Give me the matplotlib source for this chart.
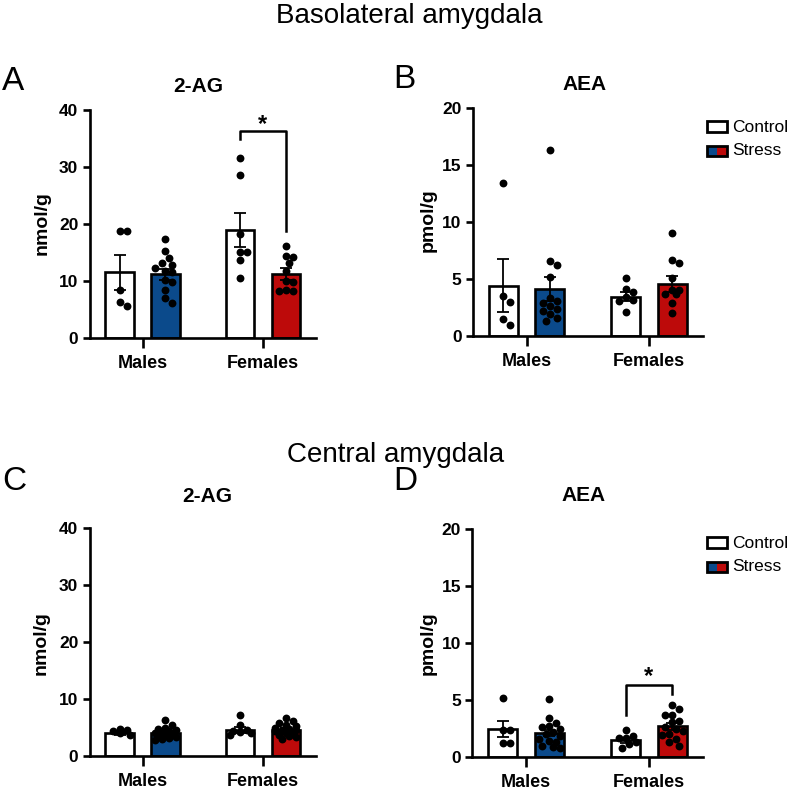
import matplotlib
matplotlib.use('Agg')
import matplotlib.pyplot as plt
import numpy as np
from matplotlib.patches import Rectangle

plt.rcParams['font.family'] = ['Liberation Sans', 'DejaVu Sans']

W = 790  # figure size in pixels
BLUE = '#0b4a8b'
RED = '#bd0a0a'

groups = ['Males', 'Females']
conditions = ['Control', 'Stress']

# order of bars in each panel: males control, males stress, females control, females stress
# A - basolateral amygdala, 2-AG (nmol/g)
bla_2ag_means = [11.5, 11.2, 18.9, 11.2]
bla_2ag_sems = [3.0, 0.95, 3.0, 1.0]
bla_2ag_points = [
    [18.8, 18.7, 8.5, 6.4, 5.7],
    [17.4, 15.2, 14.0, 13.1, 12.8, 12.3, 11.8, 11.5, 10.2, 9.9, 8.5, 7.0, 6.1],
    [31.5, 28.6, 18.3, 15.1, 15.1, 13.7, 10.6],
    [16.2, 14.3, 14.2, 13.1, 11.7, 10.0, 9.9, 8.5, 8.3, 8.3],
]

# B - basolateral amygdala, AEA (pmol/g)
bla_aea_means = [4.42, 4.1, 3.46, 4.6]
bla_aea_sems = [2.3, 1.05, 0.42, 0.7]
bla_aea_points = [
    [13.4, 3.5, 3.0, 1.5, 1.0],
    [16.3, 6.6, 6.2, 5.2, 3.3, 3.1, 2.9, 2.6, 2.4, 2.2, 1.9, 1.6, 1.3],
    [5.1, 4.1, 3.9, 3.4, 3.2, 3.1, 2.1],
    [9.0, 6.7, 6.4, 5.1, 4.0, 4.0, 3.7, 3.7, 2.9, 2.0],
]

# C - central amygdala, 2-AG (nmol/g)
cea_2ag_means = [4.0, 4.1, 4.6, 4.6]
cea_2ag_sems = [0.25, 0.3, 0.55, 0.25]
cea_2ag_points = [
    [4.8, 4.5, 4.4, 4.0, 3.6],
    [6.4, 5.5, 5.0, 4.8, 4.6, 4.4, 4.2, 4.0, 3.9, 3.7, 3.5, 3.3, 3.1, 2.9, 2.8],
    [7.2, 5.4, 4.6, 4.4, 4.2, 4.0, 3.7],
    [6.6, 6.2, 5.8, 5.5, 5.2, 5.0, 4.8, 4.6, 4.5, 4.3, 4.1, 3.9, 3.7, 3.5, 3.3, 3.0],
]

# D - central amygdala, AEA (pmol/g)
cea_aea_means = [2.45, 2.1, 1.45, 2.7]
cea_aea_sems = [0.72, 0.3, 0.2, 0.3]
cea_aea_points = [
    [5.15, 2.4, 2.4, 1.25, 1.25],
    [5.1, 3.4, 3.0, 2.7, 2.6, 2.5, 2.2, 2.0, 1.8, 1.6, 1.4, 1.3, 1.0, 0.9, 0.8],
    [2.35, 1.85, 1.7, 1.65, 1.3, 1.15, 0.75],
    [4.55, 4.2, 3.7, 3.65, 3.2, 3.05, 2.65, 2.5, 2.3, 2.05, 1.9, 1.6, 1.3, 1.0],
]

# significance brackets (left leg bottom, top, right leg bottom)
bla_2ag_bracket = [35.0, 36.3, 18.7]
cea_aea_bracket = [3.67, 6.3, 5.57]


def swarm(values, ypx, xpx, diam=7.0, max_off=12):
    # simple beeswarm: spread points sideways so they do not overlap
    step = diam / 2
    cands = [0.0]
    k = 1
    while k * step <= max_off:
        cands += [k * step, -k * step]
        k += 1
    placed = []
    offs = []
    for v in values:
        y = v * ypx
        best, best_d = 0.0, -1
        for c in cands:
            d = min([np.hypot(c - px, y - py) for px, py in placed], default=1e9)
            if d >= diam:
                best = c
                break
            if d > best_d:
                best, best_d = c, d
        placed.append((best, y))
        offs.append(best / xpx)
    return offs


def px_rect(left, top, right, bottom):
    return [left / W, 1 - bottom / W, (right - left) / W, (bottom - top) / W]


def draw_panel(fig, rect, means, sems, points, ymax, yticks, bracket=None, star_y=None):
    ax = fig.add_axes(rect)
    xlim = (-0.44, 1.44)
    ax.set_xlim(*xlim)
    ax.set_ylim(0, ymax)
    width_px = rect[2] * W
    height_px = rect[3] * W
    xpx = width_px / (xlim[1] - xlim[0])
    ypx = height_px / ymax

    xs = [-0.19, 0.19, 1 - 0.19, 1 + 0.19]
    colors = ['white', BLUE, 'white', RED]
    ax.bar(xs, means, width=0.235, color=colors, edgecolor='black', linewidth=1.9, zorder=2)
    ax.errorbar(xs, means, yerr=sems, fmt='none', ecolor='black', elinewidth=1.3,
                capsize=4.5, capthick=1.3, zorder=3)
    for x, vals in zip(xs, points):
        offs = swarm(vals, ypx, xpx)
        ax.scatter(np.array(offs) + x, vals, s=32, color='black', linewidths=0, zorder=4)

    if bracket is not None:
        x1, x2 = xs[2], xs[3]
        ax.plot([x1, x1, x2, x2], [bracket[0], bracket[1], bracket[1], bracket[2]],
                color='black', lw=1.8, zorder=5, clip_on=False)
        ax.text((x1 + x2) / 2, star_y, '*', ha='center', va='baseline',
                fontsize=17, fontweight='bold')

    for s in ['top', 'right']:
        ax.spines[s].set_visible(False)
    for s in ['left', 'bottom']:
        ax.spines[s].set_linewidth(1.9)
    ax.set_yticks(yticks)
    ax.set_xticks([0, 1])
    ax.set_xticklabels(groups, fontsize=13, fontweight='bold')
    ax.tick_params(axis='y', length=5, width=1.9, pad=3, labelsize=12.5)
    ax.tick_params(axis='x', length=7, width=1.9, pad=5)
    for lab in ax.get_yticklabels():
        lab.set_fontweight('bold')
    return ax


class SplitBox:
    def legend_artist(self, legend, orig_handle, fontsize, handlebox):
        x0, y0 = handlebox.xdescent, handlebox.ydescent
        w, h = handlebox.width, handlebox.height
        t = handlebox.get_transform()
        left = Rectangle((x0, y0), w / 2, h, facecolor=BLUE, edgecolor='none', transform=t)
        right = Rectangle((x0 + w / 2, y0), w / 2, h, facecolor=RED, edgecolor='none', transform=t)
        box = Rectangle((x0, y0), w, h, facecolor='none', edgecolor='black', lw=2, transform=t)
        for p in (left, right, box):
            handlebox.add_artist(p)
        return box


def add_legend(ax, top_px):
    ctrl = Rectangle((0, 0), 1, 1, facecolor='white', edgecolor='black', lw=2)
    stress = Rectangle((0, 0), 1, 1, facecolor=BLUE, edgecolor='black', lw=2)
    ax.legend([ctrl, stress], conditions, handler_map={stress: SplitBox()},
              loc='upper left', bbox_to_anchor=(707 / W, 1 - top_px / W),
              bbox_transform=ax.figure.transFigure, frameon=False, fontsize=12.5,
              handlelength=1.15, handleheight=0.55, handletextpad=0.3,
              labelspacing=0.45, borderpad=0, borderaxespad=0)


def ftext(fig, x, y, s, **kw):
    fig.text(x / W, 1 - y / W, s, **kw)


fig = plt.figure(figsize=(7.9, 7.9), dpi=100)

axA = draw_panel(fig, px_rect(89.5, 110, 316, 338), bla_2ag_means, bla_2ag_sems, bla_2ag_points,
                 40, [0, 10, 20, 30, 40], bla_2ag_bracket, 36.4)
axB = draw_panel(fig, px_rect(472.7, 108, 703, 336), bla_aea_means, bla_aea_sems, bla_aea_points,
                 20, [0, 5, 10, 15, 20])
axC = draw_panel(fig, px_rect(89.5, 528, 316, 756), cea_2ag_means, cea_2ag_sems, cea_2ag_points,
                 40, [0, 10, 20, 30, 40])
axD = draw_panel(fig, px_rect(472, 529, 703, 757), cea_aea_means, cea_aea_sems, cea_aea_points,
                 20, [0, 5, 10, 15, 20], cea_aea_bracket, 6.45)

add_legend(axB, 120.5)
add_legend(axD, 536.5)

# headers
ftext(fig, 409, 23, 'Basolateral amygdala', ha='center', va='baseline', fontsize=20)
ftext(fig, 396, 462, 'Central amygdala', ha='center', va='baseline', fontsize=20)

# panel letters
for lx, ly, letter in [(2, 90, 'A'), (393, 88, 'B'), (2, 490, 'C'), (393, 490, 'D')]:
    ftext(fig, lx, ly, letter, ha='left', va='baseline', fontsize=24)

# panel titles
for tx, ty, title in [(198, 92, '2-AG'), (585, 90, 'AEA'), (207, 502, '2-AG'), (584, 501, 'AEA')]:
    ftext(fig, tx, ty, title, ha='center', va='baseline', fontsize=15, fontweight='bold')

# y labels
for yx, yy, lab in [(42, 223, 'nmol/g'), (428, 220, 'pmol/g'), (41, 643, 'nmol/g'), (428, 643, 'pmol/g')]:
    ftext(fig, yx, yy, lab, ha='center', va='center', rotation=90, fontsize=14, fontweight='bold')

fig.savefig('out.png', dpi=100)
